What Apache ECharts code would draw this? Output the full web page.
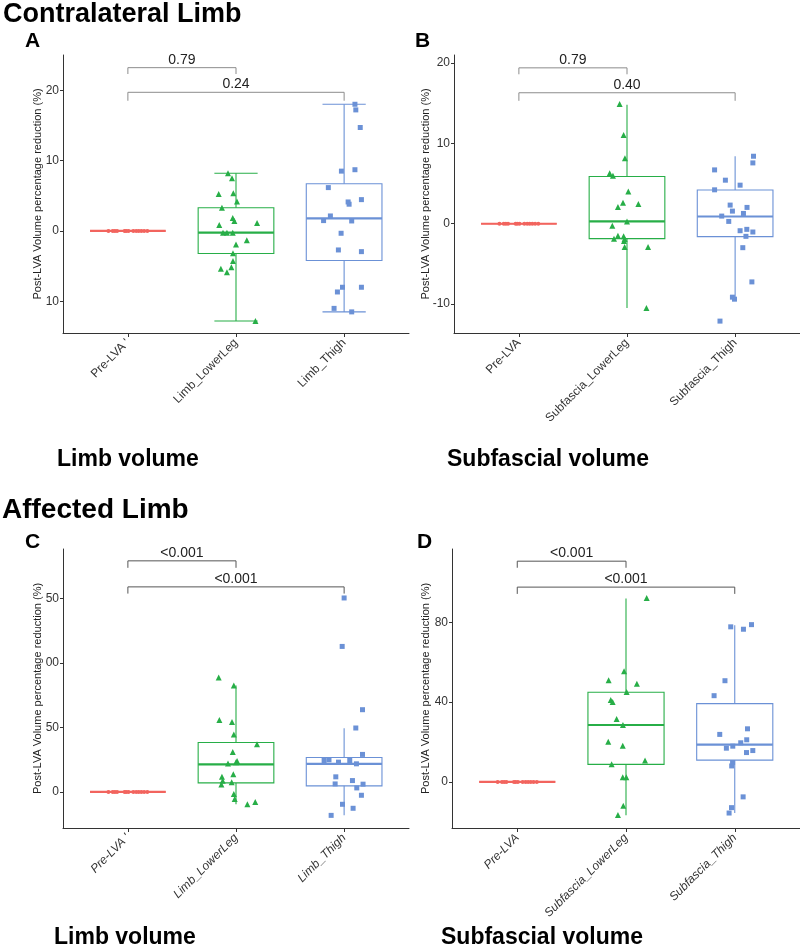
<!DOCTYPE html>
<html>
<head>
<meta charset="utf-8">
<title>Post-LVA volume reduction</title>
<script src="https://cdn.jsdelivr.net/npm/echarts@6.0.0/dist/echarts.min.js"></script>
<style>
  html, body { margin: 0; padding: 0; background: #fff; }
  #chart { width: 800px; height: 950px; }
</style>
</head>
<body>
<div id="chart"></div>
<script>
// ---- values ----
const groupsLimb = ["Pre-LVA '", 'Limb_LowerLeg', 'Limb_Thigh'];
const groupsSub = ['Pre-LVA', 'Subfascia_LowerLeg', 'Subfascia_Thigh'];

// pre-LVA: every value is 0, only the horizontal jitter differs
const preJitter = [-0.18, -0.14, -0.12, -0.10, -0.03, -0.015, 0.006, 0.05, 0.077, 0.10, 0.124, 0.15, 0.18];

// box stats: [lower whisker, Q1, median, Q3, upper whisker]
const preBox = [0, 0, 0, 0, 0];

// A - contralateral, limb volume
const aLowerVal = [8.2, 7.5, 5.26, 5.36, 4.2, 3.3, 1.85, 1.42, 1.14, 0.85, -0.24, -0.24, -0.24, -1.33, -1.94, -3.18, -4.27, -5.36, -5.17, -5.88, -12.8];
const aLowerJit = [-0.074, -0.037, -0.16, -0.025, 0.009, -0.13, -0.03, -0.015, 0.195, -0.155, -0.12, -0.084, -0.03, 0.10, 0.0, -0.028, -0.028, -0.14, -0.043, -0.084, 0.18];
const aThighVal = [18.0, 17.2, 14.7, 8.5, 8.7, 6.16, 4.12, 3.8, 4.45, 2.13, 1.47, 1.42, -0.33, -2.7, -2.94, -8.0, -8.0, -8.67, -11.0, -11.5];
const aThighJit = [0.10, 0.108, 0.149, -0.025, 0.10, -0.146, 0.037, 0.046, 0.16, -0.127, -0.19, 0.07, -0.028, -0.053, 0.16, -0.015, 0.16, -0.062, -0.093, 0.07];
const aLowerBox = [-12.8, -3.2, -0.24, 3.3, 8.2];
const aThighBox = [-11.5, -4.2, 1.8, 6.7, 18.0];
const aYTicks = [-10, 0, 10, 20];
const aYLabels = ['10', '0', '10', '20'];
const aBrackets = [[1, 2, 23.2, 22.3], [1, 3, 19.7, 18.5]];
const aPvals = ['0.79', '0.24'];

// B - contralateral, subfascial volume
const bLowerVal = [14.9, 11.05, 8.15, 6.29, 5.96, 4.0, 2.6, 2.07, 2.44, 0.29, -0.25, -1.49, -1.86, -1.57, -1.9, -2.15, -2.9, -2.9, -10.5];
const bLowerJit = [-0.068, -0.031, -0.019, -0.16, -0.13, 0.012, -0.037, -0.084, 0.105, 0.0, -0.136, -0.084, -0.12, -0.031, -0.022, -0.028, -0.022, 0.195, 0.18];
const bThighVal = [8.4, 7.57, 6.7, 5.42, 4.8, 4.22, 2.32, 2.03, 1.57, 1.28, 0.95, 0.29, -0.87, -0.7, -1.03, -1.57, -2.98, -7.24, -9.14, -9.39, -12.12];
const bThighJit = [0.17, 0.164, -0.19, -0.09, 0.046, -0.19, -0.046, 0.11, -0.025, 0.077, -0.124, -0.059, 0.046, 0.108, 0.164, 0.10, 0.071, 0.155, -0.025, -0.006, -0.14];
const bLowerBox = [-10.5, -1.86, 0.29, 5.87, 14.8];
const bThighBox = [-9.4, -1.6, 0.9, 4.2, 8.4];
const bYTicks = [-10, 0, 10, 20];
const bYLabels = ['-10', '0', '10', '20'];
const bBrackets = [[1, 2, 19.4, 18.6], [1, 3, 16.3, 15.3]];
const bPvals = ['0.79', '0.40'];

// C - affected, limb volume
const cLowerVal = [88.8, 82.5, 55.8, 54.2, 44.6, 36.9, 30.9, 24.0, 22.1, 23.0, 11.7, 13.8, 8.6, 7.5, 5.8, -1.6, -5.4, -9.6, -7.8];
const cLowerJit = [-0.16, -0.02, -0.154, -0.037, -0.02, 0.194, -0.03, 0.01, -0.074, 0.0, -0.13, -0.025, -0.123, -0.04, -0.135, -0.02, -0.012, 0.105, 0.178];
const cThighVal = [150.5, 112.9, 63.8, 49.6, 29.1, 24.4, 24.9, 23.1, 24.4, 21.8, 11.7, 8.8, 6.2, 6.0, 3.1, -2.6, -9.6, -12.7, -18.2];
const cThighJit = [0.0, -0.018, 0.17, 0.108, 0.17, -0.185, -0.14, -0.052, 0.052, 0.114, -0.077, 0.077, -0.083, 0.175, 0.117, 0.16, -0.015, 0.083, -0.12];
const cLowerBox = [-9.5, 7.0, 21.3, 38.4, 82.5];
const cThighBox = [-18.2, 4.7, 21.8, 26.7, 49.5];
const cYTicks = [0, 50, 100, 150];
const cYLabels = ['0', '50', '00', '50'];
const cBrackets = [[1, 2, 179.3, 173.9], [1, 3, 159.1, 153.9]];
const cPvals = ['<0.001', '<0.001'];

// D - affected, subfascial volume
const dLowerVal = [92.2, 55.4, 50.9, 49.2, 45.0, 41.0, 40.0, 31.5, 28.5, 20.1, 18.1, 10.7, 8.9, 2.3, 2.3, -11.9, -16.6];
const dLowerJit = [0.19, -0.018, -0.16, 0.10, 0.006, -0.14, -0.123, -0.086, -0.028, -0.163, -0.03, 0.175, -0.132, -0.03, 0.003, -0.025, -0.074];
const dThighVal = [78.8, 77.7, 76.5, 50.7, 43.2, 23.8, 26.6, 21.1, 19.6, 17.9, 16.9, 15.7, 14.7, 9.7, 8.0, -7.5, -12.9, -15.6];
const dThighJit = [0.154, -0.037, 0.08, -0.09, -0.19, -0.138, 0.117, 0.11, 0.055, -0.018, -0.077, 0.166, 0.108, -0.02, -0.028, 0.077, -0.03, -0.052];
const dLowerBox = [-16.7, 8.8, 28.5, 44.9, 91.9];
const dThighBox = [-15.6, 10.9, 18.7, 39.2, 78.5];
const dYTicks = [0, 40, 80];
const dYLabels = ['0', '40', '80'];
const dBrackets = [[1, 2, 110.6, 107.3], [1, 3, 97.6, 94.2]];
const dPvals = ['<0.001', '<0.001'];

// ---- styling ----
const RED = '#F2645E', GREEN = '#27AE47', BLUE = '#6B91D6';
const FONT = '"Liberation Sans", Arial, Helvetica, sans-serif';
const AXIS = '#333';

const panels = [
  { grid: { left: 63, top: 55, width: 346, height: 278 }, min: -14.5, max: 25.0, groups: groupsLimb, nameGap: 20,
    lower: [aLowerVal, aLowerJit], thigh: [aThighVal, aThighJit], boxes: [aLowerBox, aThighBox],
    ticks: aYTicks, labels: aYLabels, brackets: aBrackets, pvals: aPvals, caps: true, bracketColor: '#8c8c8c', italic: false },
  { grid: { left: 454, top: 55, width: 346, height: 278 }, min: -13.6, max: 21.0, groups: groupsSub, nameGap: 23,
    lower: [bLowerVal, bLowerJit], thigh: [bThighVal, bThighJit], boxes: [bLowerBox, bThighBox],
    ticks: bYTicks, labels: bYLabels, brackets: bBrackets, pvals: bPvals, caps: false, bracketColor: '#8c8c8c', italic: false },
  { grid: { left: 63, top: 549, width: 346, height: 279 }, min: -28, max: 188.5, groups: groupsLimb, nameGap: 20,
    lower: [cLowerVal, cLowerJit], thigh: [cThighVal, cThighJit], boxes: [cLowerBox, cThighBox],
    ticks: cYTicks, labels: cYLabels, brackets: cBrackets, pvals: cPvals, caps: false, bracketColor: '#555', italic: true },
  { grid: { left: 452, top: 549, width: 348, height: 279 }, min: -23.1, max: 116.7, groups: groupsSub, nameGap: 21,
    lower: [dLowerVal, dLowerJit], thigh: [dThighVal, dThighJit], boxes: [dLowerBox, dThighBox],
    ticks: dYTicks, labels: dYLabels, brackets: dBrackets, pvals: dPvals, caps: false, bracketColor: '#555', italic: true }
];

function boxRenderer(caps) {
  return function (params, api) {
    const x = api.value(0);
    const lo = api.value(1), q1 = api.value(2), med = api.value(3), q3 = api.value(4), hi = api.value(5);
    const color = api.visual('color');
    const half = 0.35, capHalf = 0.2;
    const tl = api.coord([x - half, q3]), br = api.coord([x + half, q1]);
    const mL = api.coord([x - half, med]), mR = api.coord([x + half, med]);
    const top = api.coord([x, hi]), pq3 = api.coord([x, q3]);
    const bot = api.coord([x, lo]), pq1 = api.coord([x, q1]);
    const st = { stroke: color, lineWidth: 1.1, fill: 'none' };
    const kids = [
      { type: 'line', shape: { x1: top[0], y1: top[1], x2: pq3[0], y2: pq3[1] }, style: st },
      { type: 'line', shape: { x1: bot[0], y1: bot[1], x2: pq1[0], y2: pq1[1] }, style: st },
      { type: 'rect', shape: { x: tl[0], y: tl[1], width: br[0] - tl[0], height: br[1] - tl[1] }, style: st },
      { type: 'line', shape: { x1: mL[0], y1: mL[1], x2: mR[0], y2: mR[1] }, style: { stroke: color, lineWidth: 2.2 } }
    ];
    if (caps && hi !== lo) {
      const c1 = api.coord([x - capHalf, hi]), c2 = api.coord([x + capHalf, hi]);
      const c3 = api.coord([x - capHalf, lo]), c4 = api.coord([x + capHalf, lo]);
      kids.push({ type: 'line', shape: { x1: c1[0], y1: c1[1], x2: c2[0], y2: c2[1] }, style: st });
      kids.push({ type: 'line', shape: { x1: c3[0], y1: c3[1], x2: c4[0], y2: c4[1] }, style: st });
    }
    return { type: 'group', children: kids };
  };
}

function bracketRenderer(pvals, color) {
  return function (params, api) {
    const x1 = api.value(0), x2 = api.value(1), y = api.value(2), yt = api.value(3);
    const a = api.coord([x1, yt]), b = api.coord([x1, y]), c = api.coord([x2, y]), d = api.coord([x2, yt]);
    return { type: 'group', children: [
      { type: 'polyline', shape: { points: [a, b, c, d] }, style: { stroke: color, lineWidth: 1, fill: 'none' } },
      { type: 'text', style: { text: pvals[params.dataIndex], x: (b[0] + c[0]) / 2, y: b[1] - 1,
        align: 'center', verticalAlign: 'bottom', font: '14px ' + FONT, fill: '#222' } }
    ] };
  };
}

const grids = [], xAxes = [], yAxes = [], series = [];
panels.forEach((p, i) => {
  grids.push(Object.assign({ containLabel: false }, p.grid));
  xAxes.push({
    type: 'value', gridIndex: i, min: 0.4, max: 3.6,
    axisLine: { show: true, onZero: false, lineStyle: { color: AXIS, width: 1 } },
    axisTick: { show: true, length: 4, customValues: [1, 2, 3], lineStyle: { color: AXIS } },
    axisLabel: { customValues: [1, 2, 3], rotate: 45, margin: 8, fontSize: 12, color: '#333',
      fontFamily: FONT, fontStyle: p.italic ? 'italic' : 'normal',
      formatter: v => p.groups[Math.round(v) - 1] },
    splitLine: { show: false }
  });
  yAxes.push({
    type: 'value', gridIndex: i, min: p.min, max: p.max,
    name: 'Post-LVA Volume percentage reduction (%)', nameLocation: 'middle', nameGap: p.nameGap,
    nameMoveOverlap: false,
    nameTextStyle: { fontSize: 11, color: '#222', fontFamily: FONT },
    axisLine: { show: true, onZero: false, lineStyle: { color: AXIS, width: 1 } },
    axisTick: { show: true, length: 3, customValues: p.ticks, lineStyle: { color: AXIS } },
    axisLabel: { customValues: p.ticks, margin: 4, fontSize: 12, color: '#333', fontFamily: FONT,
      formatter: v => p.labels[p.ticks.indexOf(v)] },
    splitLine: { show: false }
  });
  const ax = { xAxisIndex: i, yAxisIndex: i };
  // boxes
  [[preBox, 1, RED], [p.boxes[0], 2, GREEN], [p.boxes[1], 3, BLUE]].forEach(([bx, gx, col]) => {
    series.push(Object.assign({
      type: 'custom', renderItem: boxRenderer(p.caps), itemStyle: { color: col }, z: 2, silent: true,
      encode: { x: 0, y: [1, 2, 3, 4, 5] },
      data: [[gx].concat(bx)]
    }, ax));
  });
  // jittered points
  series.push(Object.assign({
    type: 'scatter', symbol: 'circle', symbolSize: 4, itemStyle: { color: RED, opacity: 1 }, z: 3, silent: true,
    data: preJitter.map(j => [1 + j, 0])
  }, ax));
  series.push(Object.assign({
    type: 'scatter', symbol: 'triangle', symbolSize: 6, itemStyle: { color: GREEN, opacity: 1 }, z: 3, silent: true,
    data: p.lower[0].map((v, k) => [2 + p.lower[1][k], v])
  }, ax));
  series.push(Object.assign({
    type: 'scatter', symbol: 'rect', symbolSize: 5, itemStyle: { color: BLUE, opacity: 1 }, z: 3, silent: true,
    data: p.thigh[0].map((v, k) => [3 + p.thigh[1][k], v])
  }, ax));
  // significance brackets
  series.push(Object.assign({
    type: 'custom', renderItem: bracketRenderer(p.pvals, p.bracketColor), z: 4, silent: true, clip: false,
    encode: { x: [0, 1], y: [2, 3] },
    data: p.brackets
  }, ax));
});

function label(text, x, y, size) {
  return { type: 'text', x: x, y: y, silent: true,
    style: { text: text, font: 'bold ' + size + 'px ' + FONT, fill: '#000', verticalAlign: 'middle', align: 'left' } };
}

const chart = echarts.init(document.getElementById('chart'), null, { renderer: 'canvas' });
chart.setOption({
  animation: false,
  backgroundColor: '#fff',
  grid: grids,
  xAxis: xAxes,
  yAxis: yAxes,
  series: series,
  graphic: [
    label('Contralateral Limb', 3, 15, 27),
    label('A', 25, 41, 21),
    label('B', 415, 41, 21),
    label('Limb volume', 57, 460, 23),
    label('Subfascial volume', 447, 460, 23),
    label('Affected Limb', 2, 510, 28),
    label('C', 25, 542, 21),
    label('D', 417, 542, 21),
    label('Limb volume', 54, 938, 23),
    label('Subfascial volume', 441, 938, 23)
  ]
});
</script>
</body>
</html>
